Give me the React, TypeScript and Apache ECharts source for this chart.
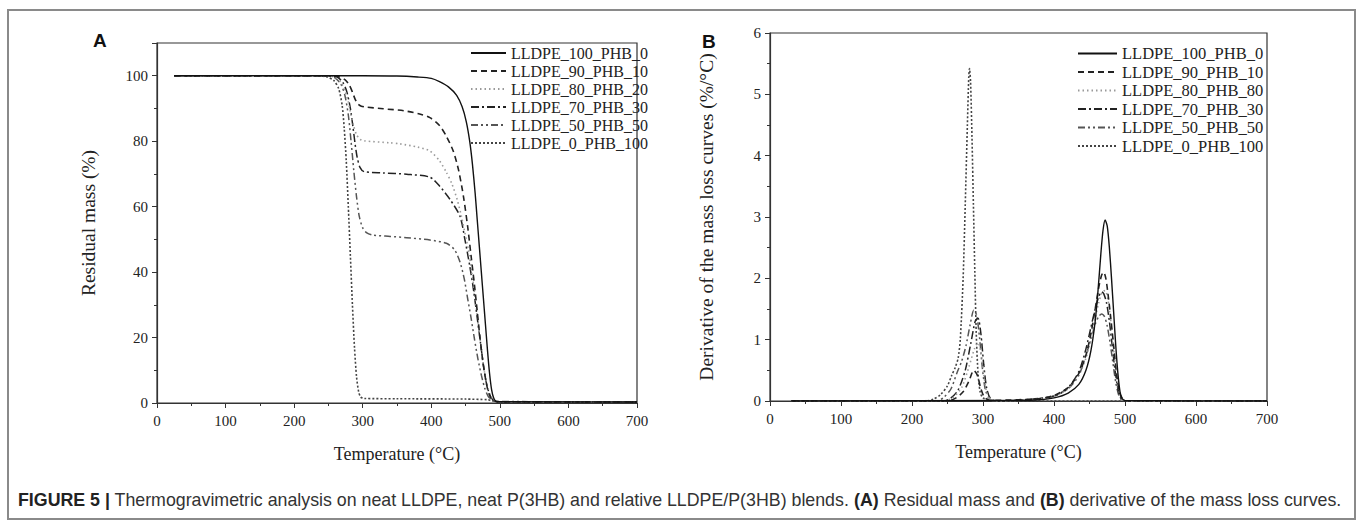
import React, { useEffect, useRef } from "react";
import * as echarts from "echarts";

// ---------- labels ----------
const namesA = [
  "LLDPE_100_PHB_0",
  "LLDPE_90_PHB_10",
  "LLDPE_80_PHB_20",
  "LLDPE_70_PHB_30",
  "LLDPE_50_PHB_50",
  "LLDPE_0_PHB_100",
];
const namesB = [
  "LLDPE_100_PHB_0",
  "LLDPE_90_PHB_10",
  "LLDPE_80_PHB_80",
  "LLDPE_70_PHB_30",
  "LLDPE_50_PHB_50",
  "LLDPE_0_PHB_100",
];
const xTitle = "Temperature (°C)";
const yTitleA = "Residual mass (%)";
const yTitleB = "Derivative of the mass loss curves (%/°C)";
const caption =
  "{b|FIGURE 5 |} Thermogravimetric analysis on neat LLDPE, neat P(3HB) and relative LLDPE/P(3HB) blends. {b|(A)} Residual mass and {b|(B)} derivative of the mass loss curves.";

// ---------- panel A: residual mass (%) vs temperature (°C) ----------
const tga_100_0 = [
  [25, 100], [300, 100], [350, 99.9], [380, 99.6], [400, 99.2], [412, 98.2], [425, 96.6],
  [437, 94], [445, 90.5], [451, 86], [456, 80], [460, 73], [464, 64], [467, 56], [470, 48],
  [473, 40], [476, 32], [479, 24], [482, 16], [485, 9], [488, 4], [491, 1.5], [494, 0.6],
  [500, 0.4], [700, 0.3],
];
const tga_90_10 = [
  [25, 100], [258, 100], [266, 99.6], [274, 98.8], [280, 97.3], [285, 95], [289, 92.8],
  [293, 91.4], [298, 90.7], [305, 90.4], [330, 89.9], [360, 89.3], [383, 88.3], [398, 87.2],
  [412, 84.8], [422, 81.5], [432, 77], [440, 71], [447, 63], [453, 54], [458, 45], [463, 36],
  [467, 28], [471, 20], [475, 13], [479, 7.5], [483, 3.5], [487, 1.5], [491, 0.6], [496, 0.4],
  [700, 0.3],
];
const tga_80_20 = [
  [25, 100], [250, 100], [260, 99.4], [268, 98], [274, 95.5], [279, 92], [283, 88],
  [287, 84.5], [291, 82], [296, 80.6], [302, 80.1], [340, 79.5], [354, 79.2], [380, 78.2],
  [398, 77], [412, 74], [422, 70.5], [430, 67], [438, 62], [444, 57], [449, 52], [454, 47],
  [459, 40], [464, 32], [469, 23], [474, 15], [478, 9], [482, 5], [486, 2.3], [490, 1],
  [495, 0.4], [700, 0.3],
];
const tga_70_30 = [
  [25, 100], [255, 100], [264, 99.4], [271, 98], [277, 95], [282, 90], [286, 84], [289, 79],
  [292, 75], [296, 72], [302, 70.7], [330, 70.3], [364, 69.9], [398, 69], [412, 66.3],
  [428, 62], [442, 57], [449, 50], [456, 42], [462, 34], [467, 26], [472, 18], [476, 11.5],
  [480, 6.5], [484, 3.2], [488, 1.4], [492, 0.6], [497, 0.4], [700, 0.3],
];
const tga_50_50 = [
  [25, 100], [250, 100], [260, 99.3], [268, 97.5], [274, 94], [279, 88], [283, 80], [287, 71],
  [291, 63], [295, 57], [300, 53.5], [306, 52], [315, 51.3], [340, 50.9], [364, 50.5],
  [398, 49.8], [422, 48.8], [434, 46.8], [442, 43], [448, 38], [453, 32], [458, 26],
  [463, 19.5], [468, 13.5], [473, 8.5], [478, 4.5], [483, 2], [488, 0.9], [494, 0.5],
  [700, 0.3],
];
const tga_0_100 = [
  [25, 100], [235, 100], [248, 99.6], [258, 98.5], [265, 96], [270, 91], [273, 84], [276, 74],
  [279, 60], [282, 45], [285, 30], [288, 17], [291, 8], [294, 3.5], [297, 1.8], [302, 1.4],
  [350, 1.3], [450, 1.2], [482, 1.0], [490, 0.6], [500, 0.4], [700, 0.3],
];

// ---------- panel B: derivative (%/°C) vs temperature (°C) ----------
const dtg_100_0 = [
  [30, 0], [350, 0.01], [380, 0.02], [400, 0.05], [420, 0.13], [435, 0.27], [445, 0.5],
  [452, 0.82], [458, 1.3], [462, 1.8], [466, 2.4], [469, 2.78], [472, 2.95], [475, 2.85],
  [478, 2.5], [481, 2.0], [484, 1.45], [487, 0.9], [490, 0.45], [493, 0.15], [496, 0.04],
  [500, 0.01], [700, 0],
];
const dtg_90_10 = [
  [30, 0], [250, 0], [262, 0.05], [272, 0.15], [280, 0.32], [287, 0.5], [292, 0.42],
  [297, 0.2], [302, 0.06], [310, 0.01], [350, 0.02], [380, 0.04], [400, 0.09], [420, 0.22],
  [435, 0.45], [445, 0.75], [452, 1.1], [458, 1.5], [463, 1.85], [467, 2.05], [470, 2.1],
  [473, 2.0], [476, 1.75], [480, 1.35], [484, 0.9], [488, 0.45], [492, 0.15], [496, 0.04],
  [500, 0], [700, 0],
];
const dtg_80_20 = [
  [30, 0], [245, 0], [258, 0.06], [270, 0.22], [280, 0.55], [288, 0.85], [293, 0.95],
  [297, 0.8], [301, 0.45], [305, 0.15], [310, 0.03], [320, 0], [360, 0.02], [400, 0.08],
  [420, 0.2], [435, 0.42], [445, 0.7], [452, 1.0], [458, 1.35], [463, 1.6], [468, 1.78],
  [472, 1.8], [476, 1.65], [480, 1.3], [484, 0.85], [488, 0.42], [492, 0.14], [496, 0.03],
  [500, 0], [700, 0],
];
const dtg_70_30 = [
  [30, 0], [245, 0], [255, 0.05], [265, 0.18], [275, 0.5], [283, 0.95], [289, 1.3],
  [293, 1.35], [297, 1.1], [301, 0.6], [305, 0.22], [310, 0.05], [320, 0], [360, 0.02],
  [400, 0.08], [420, 0.22], [435, 0.48], [445, 0.85], [452, 1.2], [458, 1.5], [463, 1.7],
  [467, 1.78], [470, 1.75], [474, 1.6], [478, 1.3], [482, 0.9], [486, 0.5], [490, 0.2],
  [494, 0.05], [500, 0], [700, 0],
];
const dtg_50_50 = [
  [30, 0], [235, 0], [245, 0.06], [255, 0.2], [263, 0.45], [270, 0.65], [276, 0.9],
  [282, 1.25], [287, 1.48], [291, 1.4], [295, 1.05], [299, 0.55], [303, 0.2], [308, 0.05],
  [315, 0], [360, 0.02], [400, 0.08], [420, 0.2], [435, 0.42], [445, 0.75], [452, 1.0],
  [458, 1.25], [463, 1.38], [467, 1.42], [471, 1.38], [475, 1.22], [479, 0.95], [483, 0.62],
  [487, 0.3], [491, 0.1], [495, 0.02], [500, 0], [700, 0],
];
const dtg_0_100 = [
  [30, 0], [220, 0], [230, 0.03], [240, 0.1], [250, 0.25], [256, 0.42], [261, 0.55],
  [265, 0.7], [268, 1.0], [272, 2.0], [275, 3.2], [278, 4.5], [280, 5.3], [281, 5.42],
  [282.5, 5.2], [284.5, 4.3], [286.5, 3.2], [288.5, 2.1], [290.5, 1.1], [293, 0.45],
  [296, 0.15], [300, 0.05], [320, 0], [700, 0],
];

const dataA = [tga_100_0, tga_90_10, tga_80_20, tga_70_30, tga_50_50, tga_0_100];
const dataB = [dtg_100_0, dtg_90_10, dtg_80_20, dtg_70_30, dtg_50_50, dtg_0_100];

// ---------- styles ----------
const lineStyles: any[] = [
  { color: "#111", type: "solid", width: 1.4 },
  { color: "#222", type: [6, 4], width: 1.6 },
  { color: "#9a9a9a", type: [1.5, 3], width: 1.6 },
  { color: "#222", type: [8, 3, 2, 3], width: 1.5 },
  { color: "#555", type: [7, 3, 2, 3, 2, 3], width: 1.5 },
  { color: "#444", type: [2, 2], width: 1.6 },
];

const serif = "Liberation Serif";
const axisColor = "#333";

function xAxisCfg(gridIndex: number) {
  return {
    type: "value",
    gridIndex,
    min: 0,
    max: 700,
    interval: 100,
    name: xTitle,
    nameLocation: "middle",
    nameGap: 42,
    nameTextStyle: { fontFamily: serif, fontSize: 18, color: "#222" },
    axisLine: { show: true, lineStyle: { color: axisColor, width: 1.2 } },
    axisTick: { show: true, length: 5, lineStyle: { color: axisColor } },
    minorTick: { show: true, splitNumber: 2, length: 3, lineStyle: { color: axisColor } },
    splitLine: { show: false },
    axisLabel: { fontFamily: serif, fontSize: 15, color: "#222", margin: 10 },
  };
}

function yAxisCfg(gridIndex: number, max: number, interval: number, name: string, nameGap: number) {
  return {
    type: "value",
    gridIndex,
    min: 0,
    max,
    interval,
    name,
    nameLocation: "middle",
    nameGap,
    nameTextStyle: { fontFamily: serif, fontSize: 19.5, color: "#222" },
    axisLine: { show: true, lineStyle: { color: axisColor, width: 1.2 } },
    axisTick: { show: true, length: 5, lineStyle: { color: axisColor } },
    minorTick: { show: true, splitNumber: 2, length: 3, lineStyle: { color: axisColor } },
    splitLine: { show: false },
    axisLabel: {
      fontFamily: serif,
      fontSize: 15,
      color: "#222",
      margin: 9,
      formatter: (v: number) => (v > 100 ? "" : String(v)),
    },
  };
}

export default function App() {
  const ref = useRef<HTMLDivElement>(null);
  useEffect(() => {
    if (!ref.current) return;
    const chart = echarts.init(ref.current, undefined, { renderer: "svg" });
    const series: any[] = [];
    dataA.forEach((d, i) =>
      series.push({
        name: namesA[i],
        type: "line",
        xAxisIndex: 0,
        yAxisIndex: 0,
        data: d,
        showSymbol: false,
        symbol: "none",
        smooth: 0.25,
        lineStyle: lineStyles[i],
        itemStyle: { color: lineStyles[i].color },
        z: 10 - i,
      })
    );
    dataB.forEach((d, i) =>
      series.push({
        name: namesB[i],
        type: "line",
        xAxisIndex: 1,
        yAxisIndex: 1,
        data: d,
        showSymbol: false,
        symbol: "none",
        smooth: 0.25,
        lineStyle: lineStyles[i],
        itemStyle: { color: lineStyles[i].color },
        z: 10 - i,
      })
    );
    const legendCommon = {
      orient: "vertical",
      itemHeight: 14,
      selectedMode: false,
      itemStyle: { opacity: 0, borderWidth: 0 },
    };
    chart.setOption({
      animation: false,
      backgroundColor: "#fff",
      grid: [
        { left: 157, top: 43, width: 480, height: 360, show: true, borderColor: axisColor, borderWidth: 1.2, backgroundColor: "transparent" },
        { left: 770, top: 33, width: 497, height: 368, show: true, borderColor: axisColor, borderWidth: 1.2, backgroundColor: "transparent" },
      ],
      xAxis: [xAxisCfg(0), xAxisCfg(1)],
      yAxis: [yAxisCfg(0, 110, 20, yTitleA, 59), yAxisCfg(1, 6, 1, yTitleB, 54)],
      legend: [
        {
          ...legendCommon,
          data: namesA,
          left: 465,
          top: 40,
          itemWidth: 35,
          itemGap: 2,
          textStyle: { fontFamily: serif, fontSize: 16, color: "#222", lineHeight: 16 },
        },
        {
          ...legendCommon,
          data: namesB,
          left: 1072,
          top: 40,
          itemWidth: 39,
          itemGap: 1.5,
          textStyle: { fontFamily: serif, fontSize: 16.5, color: "#222", lineHeight: 16 },
        },
      ],
      graphic: [
        {
          type: "rect",
          shape: { x: 8, y: 10, width: 1347, height: 509 },
          style: { fill: "none", stroke: "#8a8a8a", lineWidth: 2 },
          silent: true,
        },
        {
          type: "text",
          x: 93,
          y: 31,
          style: { text: "A", font: 'bold 19px "Liberation Sans"', fill: "#111" },
        },
        {
          type: "text",
          x: 702,
          y: 32,
          style: { text: "B", font: 'bold 19px "Liberation Sans"', fill: "#111" },
        },
        {
          type: "text",
          x: 18,
          y: 500,
          style: {
            text: caption,
            font: '17.8px "Liberation Sans"',
            fill: "#333",
            verticalAlign: "middle",
            rich: {
              b: { fontWeight: "bold", fontSize: 17.8, fontFamily: "Liberation Sans", fill: "#222" },
            },
          },
        },
      ],
      series,
    });
    return () => chart.dispose();
  }, []);
  return (
    <div
      ref={ref}
      style={{ position: "absolute", left: 0, top: 0, width: 1358, height: 521 }}
    />
  );
}
